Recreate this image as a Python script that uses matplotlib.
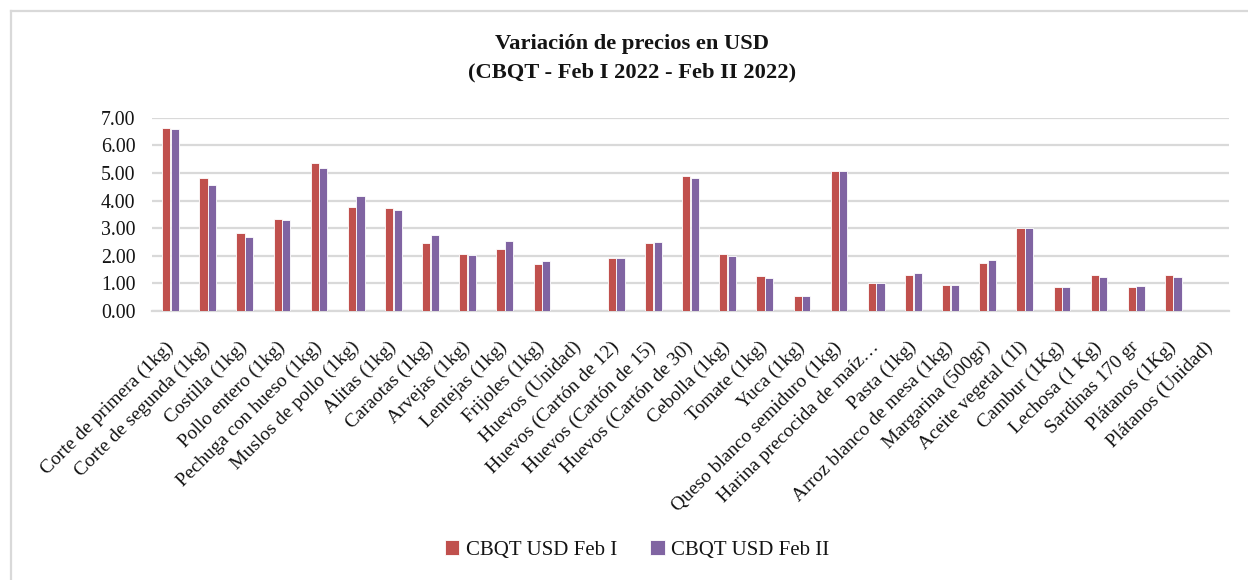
import matplotlib
matplotlib.use("Agg")
import matplotlib.pyplot as plt
from matplotlib.lines import Line2D
import numpy as np

categories = [
    "Corte de primera (1kg)", "Corte de segunda (1kg)", "Costilla (1kg)",
    "Pollo entero (1kg)", "Pechuga con hueso (1kg)", "Muslos de pollo (1kg)",
    "Alitas (1kg)", "Caraotas (1kg)", "Arvejas (1kg)", "Lentejas (1kg)",
    "Frijoles (1kg)", "Huevos (Unidad)", "Huevos (Cartón de 12)",
    "Huevos (Cartón de 15)", "Huevos (Cartón de 30)", "Cebolla (1kg)",
    "Tomate (1kg)", "Yuca (1kg)", "Queso blanco semiduro (1kg)",
    "Harina precocida de maíz…", "Pasta (1kg)", "Arroz blanco de mesa (1kg)",
    "Margarina (500gr)", "Aceite vegetal (1l)", "Cambur (1Kg)",
    "Lechosa (1 Kg)", "Sardinas 170 gr", "Plátanos (1Kg)", "Plátanos (Unidad)",
]
feb_i = [6.62, 4.80, 2.83, 3.33, 5.37, 3.76, 3.73, 2.48, 2.05, 2.25, 1.70,
         np.nan, 1.93, 2.48, 4.88, 2.05, 1.27, 0.53, 5.07, 1.02, 1.29, 0.94,
         1.73, 3.02, 0.86, 1.30, 0.88, 1.30, np.nan]
feb_ii = [6.58, 4.58, 2.67, 3.29, 5.19, 4.18, 3.64, 2.77, 2.04, 2.55, 1.80,
          np.nan, 1.93, 2.49, 4.83, 1.99, 1.18, 0.53, 5.07, 1.00, 1.36, 0.94,
          1.84, 3.00, 0.87, 1.23, 0.90, 1.22, np.nan]
series_names = ["CBQT USD Feb I", "CBQT USD Feb II"]
yticks = [0, 1, 2, 3, 4, 5, 6, 7]

RED = "#C0504D"
PURPLE = "#8064A2"
GRID = "#D9D9D9"
FONT = ["Liberation Serif", "DejaVu Serif"]
TXT = "#141414"

plt.rcParams["font.family"] = FONT

fig = plt.figure(figsize=(12.48, 5.8), dpi=100)
W, H = 1248, 580
ax = fig.add_axes([152 / W, 1 - 311 / H, (1229 - 152) / W, (311 - 117.7) / H])

x = np.arange(len(categories))
bw = 0.22
ax.bar(x - 0.115, feb_i, width=bw, color=RED, edgecolor="white", linewidth=0.6,
       label=series_names[0], zorder=3)
ax.bar(x + 0.115, feb_ii, width=bw, color=PURPLE, edgecolor="white", linewidth=0.6,
       label=series_names[1], zorder=3)

ax.set_xlim(-0.5, len(categories) - 0.5)
ax.set_ylim(0, 7)
ax.set_yticks(yticks)
ax.set_yticklabels([f"{v:.2f}" for v in yticks], fontsize=14.3, color=TXT)
ax.yaxis.grid(True, color=GRID, linewidth=1.6, zorder=0)
ax.set_axisbelow(True)
for s in ["top", "right", "left"]:
    ax.spines[s].set_visible(False)
ax.spines["bottom"].set_color(GRID)
ax.spines["bottom"].set_linewidth(1.6)
ax.tick_params(axis="y", length=0, pad=12)
ax.tick_params(axis="x", length=0, pad=24)
ax.set_xticks(x)
ax.set_xticklabels(categories, rotation=45, ha="right", va="center",
                   rotation_mode="anchor", fontsize=14, color=TXT)

fig.text(632 / W, 1 - 44 / H, "Variación de precios en USD",
         ha="center", va="center", fontsize=16.2, fontweight="bold", color=TXT)
fig.text(632 / W, 1 - 72 / H, "(CBQT - Feb I 2022 - Feb II 2022)",
         ha="center", va="center", fontsize=16.2, fontweight="bold", color=TXT)

leg = fig.legend(loc="center", bbox_to_anchor=(637 / W, 1 - 550 / H), ncol=2,
                 frameon=False, fontsize=15, handlelength=0.7, handleheight=0.7,
                 columnspacing=1.6, handletextpad=0.3)
for t in leg.get_texts():
    t.set_color(TXT)

fig.add_artist(Line2D([11 / W, 11 / W], [0, 1 - 11 / H], transform=fig.transFigure,
                      color=GRID, linewidth=1.6))
fig.add_artist(Line2D([11 / W, 1], [1 - 11 / H, 1 - 11 / H], transform=fig.transFigure,
                      color=GRID, linewidth=1.6))

fig.savefig("out.png", dpi=100, facecolor="white")
